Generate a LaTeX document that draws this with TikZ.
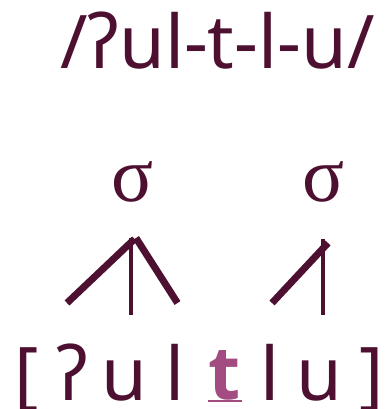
\documentclass[tikz,border=0pt]{standalone}
\usepackage{fontspec}
\setmainfont{Noto Sans}
\newfontfamily\sigmafont{Liberation Serif}
\newfontfamily\focusfont{Open Sans}
\definecolor{plum}{HTML}{4E1030}
\definecolor{orchid}{HTML}{A24C82}
\begin{document}
\begin{tikzpicture}[x=1bp,y=-1bp,
		seg/.style={anchor=base,inner sep=0pt,text depth=0pt,text=plum,font=\fontsize{74bp}{80bp}\selectfont},
		focus/.style={seg,text=orchid,font=\focusfont\bfseries\fontsize{74bp}{80bp}\selectfont},
		syl/.style={anchor=base,inner sep=0pt,text=plum,font=\sigmafont\fontsize{78bp}{80bp}\selectfont},
		thick link/.style={draw=plum,line width=7bp},
		thin link/.style={draw=plum,line width=4.5bp}]
	\useasboundingbox (0,0) rectangle (387,409);
	% underlying form
	\node[seg] (input) at (217.5,68) {/ʔul-t-l-u/};
	% syllables
	\node[syl] (s1) at (132.5,201) {σ};
	\node[syl] (s2) at (324,201) {σ};
	% surface form
	\node[seg] (lb) at (27,400) {[};
	\node[seg] (glot) at (72,400) {ʔ};
	\node[seg] (u1) at (124,400) {u};
	\node[seg] (l1) at (175,400) {l};
	\node[focus] (t) at (225,399) {t};
	\node[seg] (l2) at (270,400) {l};
	\node[seg] (u2) at (319,400) {u};
	\node[seg] (rb) at (372,400) {]};
	\draw[orchid,line width=1.3bp] ([xshift=-1bp,yshift=-2bp]t.base west) -- ([xshift=1bp,yshift=-2bp]t.base east);
	% association lines
	\coordinate (top1) at (134.5,239);
	\coordinate (onset1) at (67,303);
	\coordinate (coda1) at (177.5,303);
	\coordinate (nuc1) at (131,315);
	\coordinate (top2) at (328,243);
	\coordinate (onset2) at (272,303);
	\coordinate (nuc2) at (323,315);
	\draw[thin link] (131,238) -- (nuc1);
	\draw[thick link] (onset1) -- (top1);
	\draw[thick link] (136,238) -- (coda1);
	\draw[thin link] (323,239) -- (nuc2);
	\draw[thick link] (onset2) -- (top2);
\end{tikzpicture}
\end{document}
